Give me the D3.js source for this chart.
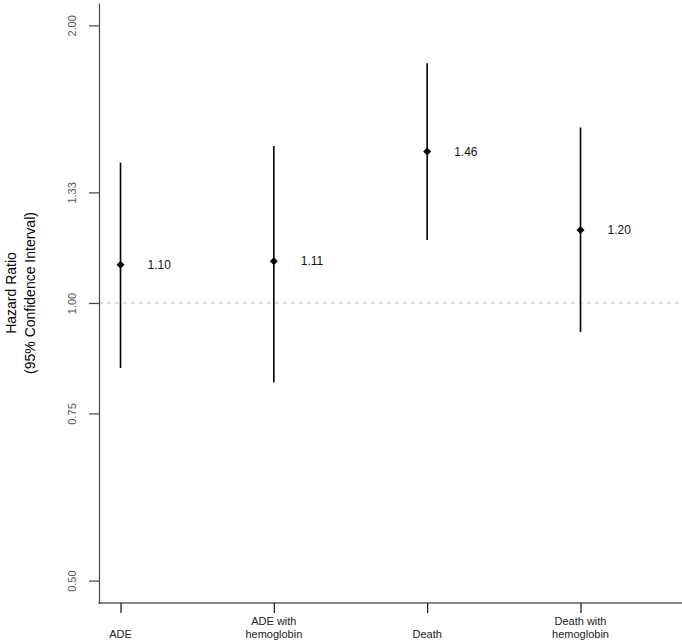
<!DOCTYPE html>
<html>
<head>
<meta charset="utf-8">
<script src="https://cdn.jsdelivr.net/npm/d3@7"></script>
<style>
  html, body { margin: 0; padding: 0; background: #fff; }
  svg { display: block; font-family: "Liberation Sans", Arial, sans-serif; }
</style>
</head>
<body>
<svg id="chart" width="682" height="644"></svg>
<script>
// ---- data ----
const categories = [["ADE"], ["ADE with", "hemoglobin"], ["Death"], ["Death with", "hemoglobin"]];
const hazardRatio = [1.10, 1.11, 1.46, 1.20];
const ciLower = [0.85, 0.82, 1.17, 0.93];
const ciUpper = [1.42, 1.48, 1.82, 1.55];
const pointLabels = ["1.10", "1.11", "1.46", "1.20"];
const yTickValues = [0.5, 0.759, 1, 1.318, 2];
const yTickLabels = ["0.50", "0.75", "1.00", "1.33", "2.00"];
const referenceValue = 1;
const yTitleLines = ["Hazard Ratio", "(95% Confidence Interval)"];

// ---- layout ----
const W = 682, H = 644;
const axisX = 99, axisTop = 3, axisBottom = 603;
const svg = d3.select("#chart");

const y = d3.scaleLog().domain([0.4728, 2.115]).range([axisBottom, axisTop]);
const x = d3.scaleLinear().domain([1, 4]).range([120.5, 580.5]);
const idx = categories.map((d, i) => i + 1);

// reference dashed line
svg.append("line")
  .attr("x1", axisX).attr("x2", W)
  .attr("y1", y(referenceValue)).attr("y2", y(referenceValue))
  .attr("stroke", "#c4c4c4").attr("stroke-width", 1)
  .attr("stroke-dasharray", "4,4");

// y axis
const yAxis = d3.axisLeft(y)
  .tickValues(yTickValues)
  .tickFormat((d, i) => yTickLabels[i])
  .tickSize(10).tickSizeOuter(0);
const gy = svg.append("g").attr("transform", `translate(${axisX},0)`).call(yAxis);
gy.select(".domain").attr("stroke", "#444").attr("stroke-width", 1.2);
gy.selectAll(".tick line").attr("stroke", "#444").attr("stroke-width", 1.2);
gy.selectAll(".tick text")
  .attr("transform", "rotate(-90)")
  .attr("x", 0).attr("y", -27).attr("dy", "0.35em")
  .attr("text-anchor", "middle")
  .attr("fill", "#555")
  .style("font-size", "11px")
  .style("font-family", "Liberation Sans, Arial, sans-serif");

// x axis
const xAxis = d3.axisBottom(x)
  .tickValues(idx)
  .tickFormat("")
  .tickSize(10).tickSizeOuter(0);
const gx = svg.append("g").attr("transform", `translate(0,${axisBottom})`).call(xAxis);
gx.select(".domain").remove();
gx.selectAll(".tick line").attr("stroke", "#111").attr("stroke-width", 1.2);
svg.append("line")
  .attr("x1", axisX - 0.6).attr("x2", W)
  .attr("y1", axisBottom).attr("y2", axisBottom)
  .attr("stroke", "#111").attr("stroke-width", 1.2);

// x labels (bottom aligned)
categories.forEach((lines, i) => {
  const t = svg.append("text")
    .attr("x", x(i + 1))
    .attr("text-anchor", "middle")
    .attr("fill", "#222")
    .style("font-size", "11px");
  lines.forEach((ln, j) => {
    t.append("tspan")
      .attr("x", x(i + 1))
      .attr("y", 638 - (lines.length - 1 - j) * 13)
      .text(ln);
  });
});

// y title
yTitleLines.forEach((ln, j) => {
  svg.append("text")
    .attr("transform", `translate(${16 + j * 19},293) rotate(-90)`)
    .attr("text-anchor", "middle")
    .attr("fill", "#000")
    .style("font-size", "14px")
    .text(ln);
});

// error bars
svg.append("g").selectAll("line")
  .data(idx)
  .join("line")
  .attr("x1", d => x(d)).attr("x2", d => x(d))
  .attr("y1", (d, i) => y(ciLower[i]))
  .attr("y2", (d, i) => y(ciUpper[i]))
  .attr("stroke", "#000").attr("stroke-width", 1.6);

// diamonds
svg.append("g").selectAll("path")
  .data(idx)
  .join("path")
  .attr("transform", (d, i) => `translate(${x(d)},${y(hazardRatio[i])})`)
  .attr("d", "M0,-4L4,0L0,4L-4,0Z")
  .attr("fill", "#000");

// point labels
svg.append("g").selectAll("text")
  .data(idx)
  .join("text")
  .attr("x", d => x(d) + 27)
  .attr("y", (d, i) => y(hazardRatio[i]))
  .attr("dy", "0.35em")
  .attr("fill", "#111")
  .style("font-size", "12px")
  .text((d, i) => pointLabels[i]);
</script>
</body>
</html>
